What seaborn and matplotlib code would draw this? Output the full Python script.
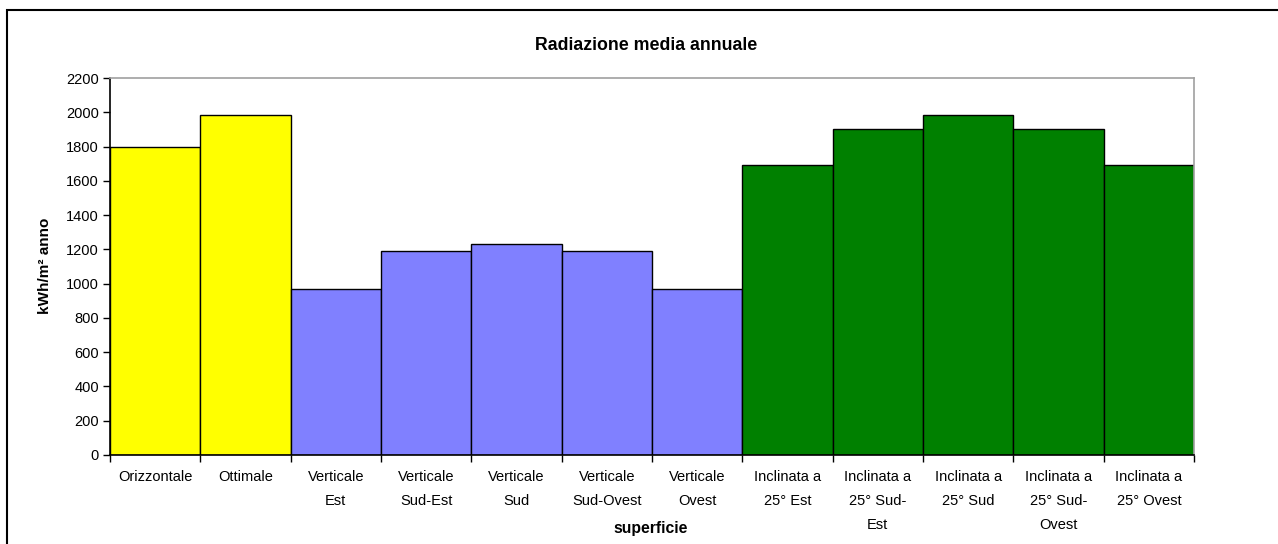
import matplotlib
matplotlib.use("Agg")
import matplotlib.pyplot as plt
from matplotlib.patches import Rectangle
import seaborn as sns
import pandas as pd

# Annual mean radiation by surface orientation
superfici = [
    "Orizzontale", "Ottimale",
    "Verticale\nEst", "Verticale\nSud-Est", "Verticale\nSud",
    "Verticale\nSud-Ovest", "Verticale\nOvest",
    "Inclinata a\n25° Est", "Inclinata a\n25° Sud-\nEst", "Inclinata a\n25° Sud",
    "Inclinata a\n25° Sud-\nOvest", "Inclinata a\n25° Ovest",
]
radiazione = [1795, 1985, 970, 1192, 1232, 1192, 970, 1692, 1900, 1985, 1900, 1692]
gruppi = ["base", "base",
          "verticale", "verticale", "verticale", "verticale", "verticale",
          "inclinata", "inclinata", "inclinata", "inclinata", "inclinata"]
colori_gruppo = {"base": "#FFFF00", "verticale": "#8080FF", "inclinata": "#008000"}

sns.set_style("white")
plt.rcParams["font.family"] = ["Liberation Sans", "DejaVu Sans"]
plt.rcParams["text.color"] = "black"
plt.rcParams["xtick.color"] = "black"
plt.rcParams["ytick.color"] = "black"

df = pd.DataFrame({"superficie": superfici, "valore": radiazione, "gruppo": gruppi})

W, H = 1278, 544
fig = plt.figure(figsize=(W / 100, H / 100), dpi=100)
ax = fig.add_axes([110 / W, 1 - 455 / H, (1194 - 110) / W, (455 - 78) / H])

sns.barplot(data=df, x="superficie", y="valore", hue="gruppo",
            palette=colori_gruppo, dodge=False, width=1.0, saturation=1,
            edgecolor="black", linewidth=1.0, legend=False, ax=ax)

ax.set_xlim(-0.5, len(superfici) - 0.5)
ax.set_ylim(0, 2200)
ax.set_yticks(range(0, 2201, 200))
ax.tick_params(axis="y", left=True, direction="out", length=5, width=1,
               color="black", labelcolor="black", labelsize=10.5, pad=3)

# category labels centred, tick marks on category boundaries
ax.set_xticks(range(len(superfici)))
ax.set_xticklabels(superfici, fontsize=10.5, linespacing=1.9, va="top")
ax.tick_params(axis="x", which="major", bottom=True, length=0, pad=11,
               labelcolor="black")
ax.set_xticks([i - 0.5 for i in range(len(superfici) + 1)], minor=True)
ax.tick_params(axis="x", which="minor", bottom=True, direction="out",
               length=5, width=1, color="black")

for side in ("left", "bottom"):
    ax.spines[side].set_color("black")
    ax.spines[side].set_linewidth(1.2)
for side in ("top", "right"):
    ax.spines[side].set_visible(True)
    ax.spines[side].set_color("#a0a0a0")
    ax.spines[side].set_linewidth(1.2)

ax.set_xlabel("")
ax.set_ylabel("")
fig.text(646 / W, 1 - 45 / H, "Radiazione media annuale", ha="center", va="center",
         fontsize=12.8, fontweight="bold")
fig.text(651 / W, 1 - 528 / H, "superficie", ha="center", va="center",
         fontsize=11.3, fontweight="bold")
fig.text(45 / W, 1 - 266 / H, "kWh/m² anno", ha="center", va="center",
         rotation=90, fontsize=11, fontweight="bold")

# outer chart frame
fig.patches.append(Rectangle((7 / W, -0.1), 1.2, 1 - 10 / H + 0.1,
                             transform=fig.transFigure, fill=False,
                             edgecolor="black", linewidth=1.5))

fig.savefig("out.png", dpi=100, facecolor="white")
